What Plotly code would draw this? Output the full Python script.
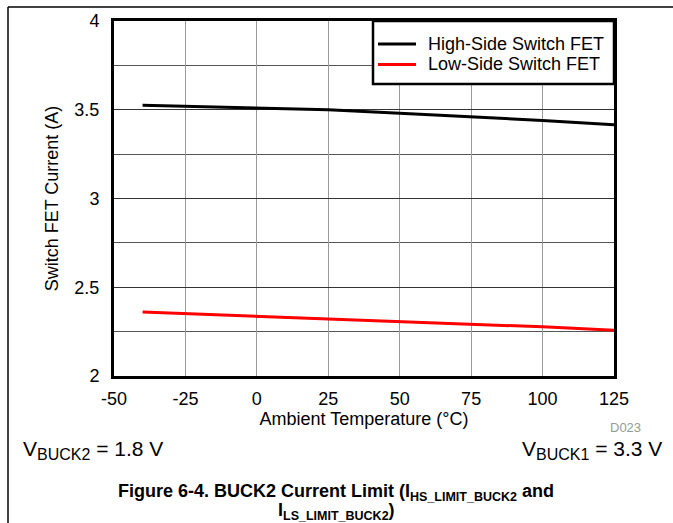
import plotly.graph_objects as go

temps = [-40, 0, 25, 50, 75, 100, 125]
hs_current = [3.525, 3.51, 3.50, 3.48, 3.46, 3.44, 3.415]
ls_current = [2.36, 2.337, 2.324, 2.308, 2.293, 2.277, 2.258]
x_ticks = [-50, -25, 0, 25, 50, 75, 100, 125]
x_tick_labels = ["-50", "-25", "0", "25", "50", "75", "100", "125"]
y_ticks = [2, 2.5, 3, 3.5, 4]
y_tick_labels = ["2", "2.5", "3", "3.5", "4"]
series_names = ["High-Side Switch FET", "Low-Side Switch FET"]
series_colors = ["black", "#ff0000"]

FONT = "Liberation Sans, Arial, sans-serif"
L, R, T, B = 114, 614, 21, 376
W, H = 673, 523

def px(x):
    return (x - L) / (R - L)

def py(y):
    return (B - y) / (B - T)

fig = go.Figure()
for name, vals, col in zip(series_names, [hs_current, ls_current], series_colors):
    fig.add_trace(go.Scatter(x=temps, y=vals, mode="lines", name=name,
                             line=dict(color=col, width=3), showlegend=False))

fig.update_layout(
    width=W, height=H,
    margin=dict(l=L, r=W - R, t=T, b=H - B),
    paper_bgcolor="white", plot_bgcolor="white",
    font=dict(family=FONT, size=18, color="black"),
    showlegend=False,
    xaxis=dict(range=[-50, 125], tickvals=x_ticks, ticktext=x_tick_labels,
               showgrid=True, gridcolor="#9a9a9a", gridwidth=1,
               showline=True, linecolor="black", linewidth=3, mirror=True, zeroline=False,
               ticks="", ticklabelstandoff=4,
               title=dict(text="Ambient Temperature (°C)", standoff=0, font=dict(size=18))),
    yaxis=dict(range=[2, 4], tickvals=y_ticks, ticktext=y_tick_labels,
               showgrid=True, gridcolor="#333", gridwidth=1,
               minor=dict(tickvals=[2.25, 2.75, 3.25, 3.75], showgrid=True, gridcolor="#555", gridwidth=1),
               showline=True, linecolor="black", linewidth=3, mirror=True, zeroline=False,
               ticks="", ticklabelstandoff=8,
               title=dict(text="Switch FET Current (A)", standoff=12, font=dict(size=18))),
)

# legend box (drawn manually for exact row spacing)
fig.add_shape(type="rect", xref="paper", yref="paper", x0=px(373), x1=px(614), y0=py(84), y1=py(21),
              line=dict(color="black", width=2.5), fillcolor="white", layer="above")
for i, (name, col) in enumerate(zip(series_names, series_colors)):
    yy = 44 + 20.5 * i
    fig.add_shape(type="line", xref="paper", yref="paper", x0=px(378), x1=px(416), y0=py(yy), y1=py(yy),
                  line=dict(color=col, width=3), layer="above")
    fig.add_annotation(xref="paper", yref="paper", x=px(426), y=py(yy), text=name, showarrow=False,
                       xanchor="left", yanchor="middle", font=dict(size=18))

# page frame lines
fig.add_shape(type="line", xref="paper", yref="paper", x0=px(8), x1=px(673), y0=py(7), y1=py(7),
              line=dict(color="black", width=1.5))
fig.add_shape(type="line", xref="paper", yref="paper", x0=px(8), x1=px(8), y0=py(7), y1=py(523),
              line=dict(color="black", width=1.5))

fig.add_annotation(xref="paper", yref="paper", x=px(643), y=py(427), text="D023", showarrow=False,
                   xanchor="right", yanchor="middle", font=dict(size=13, color="#999999"))
fig.add_annotation(xref="paper", yref="paper", x=px(21), y=py(450),
                   text="V<sub><span style='font-size:16px'>BUCK2</span></sub> = 1.8 V", showarrow=False,
                   xanchor="left", yanchor="middle", font=dict(size=21))
fig.add_annotation(xref="paper", yref="paper", x=px(664), y=py(450),
                   text="V<sub><span style='font-size:16px'>BUCK1</span></sub> = 3.3 V", showarrow=False,
                   xanchor="right", yanchor="middle", font=dict(size=21))
fig.add_annotation(xref="paper", yref="paper", x=px(336), y=py(492),
                   text="<b>Figure 6-4. BUCK2 Current Limit (I<sub><span style='font-size:12.5px'>HS_LIMIT_BUCK2</span></sub> and</b>",
                   showarrow=False, xanchor="center", yanchor="middle", font=dict(size=18))
fig.add_annotation(xref="paper", yref="paper", x=px(336), y=py(511),
                   text="<b>I<sub><span style='font-size:12.5px'>LS_LIMIT_BUCK2</span></sub>)</b>",
                   showarrow=False, xanchor="center", yanchor="middle", font=dict(size=18))

fig.write_html("out.html", config={"displayModeBar": False},
               post_script="document.body.style.margin='0';document.body.style.overflow='hidden';")
